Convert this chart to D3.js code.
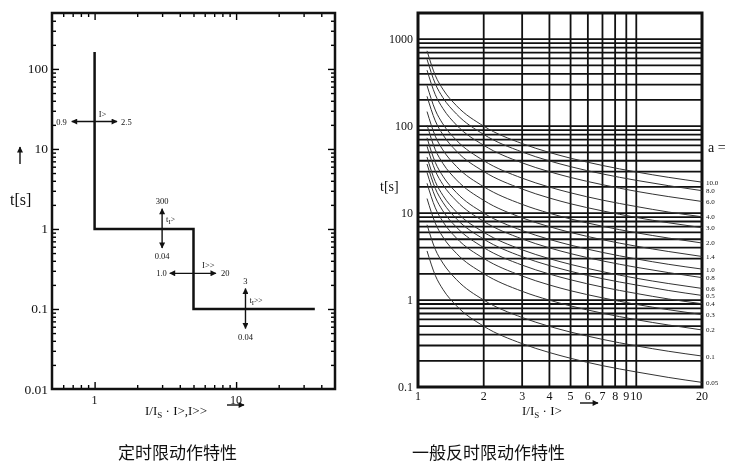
<!DOCTYPE html>
<html>
<head>
<meta charset="utf-8">
<script src="https://cdn.jsdelivr.net/npm/d3@7"></script>
<style>
  body { margin: 0; background: #fff; }
  svg { will-change: transform; }
  svg text { font-family: "Liberation Serif", "DejaVu Serif", serif; fill: #111; }
  svg text.cap { font-family: "Noto Sans CJK SC", sans-serif; }
</style>
</head>
<body>
<script>
'use strict';

// definite-time characteristic (step line)
const stepI = [1, 1, 5, 5, 36];
const stepT = [163, 1, 1, 0.1, 0.1];

// setting ranges drawn as double arrows on the left chart
const settingNames = ['I>', 't_I>', 'I>>', 't_I>>'];
const settingLow = ['0.9', '0.04', '1.0', '0.04'];
const settingHigh = ['2.5', '300', '20', '3'];

// inverse-time curves
const iMultiples = [1.1, 1.2, 1.3, 1.5, 2, 3, 4, 5, 7, 10, 14, 20];
const curveLabels = ['0.05', '0.1', '0.2', '0.3', '0.4', '0.5', '0.6', '0.8',
  '1.0', '1.4', '2.0', '3.0', '4.0', '6.0', '8.0', '10.0'];
const tripTimes = [
  [3.67, 1.92, 1.33, 0.86, 0.50, 0.315, 0.249, 0.214, 0.176, 0.149, 0.129, 0.113],
  [7.34, 3.83, 2.66, 1.72, 1.00, 0.630, 0.498, 0.428, 0.353, 0.297, 0.258, 0.227],
  [14.7, 7.66, 5.32, 3.44, 2.01, 1.26, 0.996, 0.856, 0.706, 0.594, 0.517, 0.453],
  [22.0, 11.5, 7.98, 5.16, 3.01, 1.89, 1.49, 1.28, 1.06, 0.891, 0.775, 0.680],
  [29.3, 15.3, 10.6, 6.88, 4.01, 2.52, 1.99, 1.71, 1.41, 1.19, 1.03, 0.907],
  [36.7, 19.2, 13.3, 8.60, 5.02, 3.15, 2.49, 2.14, 1.76, 1.49, 1.29, 1.13],
  [44.0, 23.0, 16.0, 10.3, 6.02, 3.78, 2.99, 2.57, 2.12, 1.78, 1.55, 1.36],
  [58.7, 30.7, 21.3, 13.8, 8.02, 5.04, 3.98, 3.42, 2.82, 2.38, 2.07, 1.81],
  [73.4, 38.3, 26.6, 17.2, 10.0, 6.30, 4.98, 4.28, 3.53, 2.97, 2.58, 2.27],
  [103, 53.6, 37.3, 24.1, 14.0, 8.82, 6.97, 5.99, 4.94, 4.16, 3.62, 3.17],
  [147, 76.6, 53.2, 34.4, 20.1, 12.6, 9.96, 8.56, 7.06, 5.94, 5.17, 4.53],
  [220, 115, 79.8, 51.6, 30.1, 18.9, 14.9, 12.8, 10.6, 8.91, 7.75, 6.80],
  [293, 153, 106, 68.8, 40.1, 25.2, 19.9, 17.1, 14.1, 11.9, 10.3, 9.07],
  [440, 230, 160, 103, 60.2, 37.8, 29.9, 25.7, 21.2, 17.8, 15.5, 13.6],
  [587, 307, 213, 138, 80.2, 50.4, 39.8, 34.2, 28.2, 23.8, 20.7, 18.1],
  [734, 383, 266, 172, 100, 63.0, 49.8, 42.8, 35.3, 29.7, 25.8, 22.7]
];

const leftYLabels = [0.01, 0.1, 1, 10, 100];
const leftXLabels = [1, 10];
const rightYLabels = [0.1, 1, 10, 100, 1000];
const rightXLabels = [1, 2, 3, 4, 5, 6, 7, 8, 9, 10, 20];

const svg = d3.select('body').append('svg')
  .attr('width', 747)
  .attr('height', 473);

// arrow head marker
svg.append('defs').append('marker')
  .attr('id', 'head')
  .attr('viewBox', '0 0 10 10')
  .attr('refX', 9).attr('refY', 5)
  .attr('markerWidth', 7).attr('markerHeight', 6)
  .attr('markerUnits', 'userSpaceOnUse')
  .attr('orient', 'auto-start-reverse')
  .append('path')
  .attr('d', 'M0,0L10,5L0,10z')
  .attr('fill', '#111');

function arrow(x1, y1, x2, y2, both) {
  let l = svg.append('line')
    .attr('x1', x1).attr('y1', y1).attr('x2', x2).attr('y2', y2)
    .attr('stroke', '#111').attr('stroke-width', 1.4)
    .attr('marker-end', 'url(#head)');
  if (both) l.attr('marker-start', 'url(#head)');
}

// ---------- left chart: definite time ----------
const xL = d3.scaleLog().domain([0.5, 50]).range([52, 335]);
const yL = d3.scaleLog().domain([0.01, 500]).range([389, 13]);

function isMajor(v) {
  return Math.abs(Math.log10(v) - Math.round(Math.log10(v))) < 1e-6;
}

const xTicksL = xL.ticks().filter(v => v > 0.5 && v < 50);
const yTicksL = yL.ticks().filter(v => v > 0.01 && v < 500);

// inward ticks, decades a bit longer
function minorTicks(g, len) {
  g.select('.domain').remove();
  g.selectAll('.tick line')
    .attr('stroke-width', 1.4)
    .each(function (d) {
      let sel = d3.select(this);
      let k = isMajor(d) ? len[1] : len[0];
      if (sel.attr('x2') != null && +sel.attr('x2') !== 0) sel.attr('x2', Math.sign(+sel.attr('x2')) * k);
      if (sel.attr('y2') != null && +sel.attr('y2') !== 0) sel.attr('y2', Math.sign(+sel.attr('y2')) * k);
    });
}

svg.append('g')
  .attr('transform', 'translate(0,389)')
  .call(d3.axisBottom(xL).tickValues(xTicksL).tickSize(-4).tickFormat(''))
  .call(minorTicks, [4, 7]);
svg.append('g')
  .attr('transform', 'translate(0,13)')
  .call(d3.axisTop(xL).tickValues(xTicksL).tickSize(-4).tickFormat(''))
  .call(minorTicks, [4, 7]);
svg.append('g')
  .attr('transform', 'translate(52,0)')
  .call(d3.axisLeft(yL).tickValues(yTicksL).tickSize(-4).tickFormat(''))
  .call(minorTicks, [4, 7]);
svg.append('g')
  .attr('transform', 'translate(335,0)')
  .call(d3.axisRight(yL).tickValues(yTicksL).tickSize(-4).tickFormat(''))
  .call(minorTicks, [4, 7]);

svg.append('rect')
  .attr('x', 52).attr('y', 13)
  .attr('width', 283).attr('height', 376)
  .attr('fill', 'none').attr('stroke', '#111').attr('stroke-width', 2.5);

svg.append('g').selectAll('text')
  .data(leftYLabels).join('text')
  .attr('x', 48).attr('y', d => yL(d) + 4.5)
  .attr('text-anchor', 'end')
  .style('font-size', '13.5px')
  .text(d => d);

svg.append('g').selectAll('text')
  .data(leftXLabels).join('text')
  .attr('x', d => xL(d)).attr('y', 404)
  .attr('text-anchor', 'middle')
  .style('font-size', '12px')
  .text(d => d);

// step line
svg.append('path')
  .datum(d3.zip(stepI, stepT))
  .attr('d', d3.line().x(d => xL(d[0])).y(d => yL(d[1])))
  .attr('fill', 'none').attr('stroke', '#111').attr('stroke-width', 2.5);

// setting arrows
function subLabel(x, y, name) {
  let parts = name.split('_');
  let t = svg.append('text').attr('x', x).attr('y', y).style('font-size', '8.5px');
  if (parts.length === 1) {
    t.text(name);
  } else {
    t.append('tspan').text(parts[0]);
    t.append('tspan').attr('dy', 2).style('font-size', '6.5px').text(parts[1].charAt(0));
    t.append('tspan').attr('dy', -2).style('font-size', '7.5px').text(parts[1].slice(1));
  }
}

// I> pick-up range
let ay = yL(22);
arrow(xL(0.69), ay, xL(1.44), ay, true);
svg.append('text').attr('x', xL(0.69) - 5).attr('y', ay + 3).attr('text-anchor', 'end')
  .style('font-size', '8.5px').text(settingLow[0]);
svg.append('text').attr('x', xL(1.44) + 4).attr('y', ay + 3)
  .style('font-size', '8.5px').text(settingHigh[0]);
subLabel(xL(1.07), ay - 5, settingNames[0]);

// t_I> delay range
let ax = xL(3);
arrow(ax, yL(1.79), ax, yL(0.58), true);
svg.append('text').attr('x', ax).attr('y', yL(1.79) - 5).attr('text-anchor', 'middle')
  .style('font-size', '8.5px').text(settingHigh[1]);
svg.append('text').attr('x', ax).attr('y', yL(0.58) + 11).attr('text-anchor', 'middle')
  .style('font-size', '8.5px').text(settingLow[1]);
subLabel(ax + 4, yL(1.32) + 3, settingNames[1]);

// I>> pick-up range
ay = yL(0.279);
arrow(xL(3.4), ay, xL(7.2), ay, true);
svg.append('text').attr('x', xL(3.4) - 3).attr('y', ay + 3).attr('text-anchor', 'end')
  .style('font-size', '8.5px').text(settingLow[2]);
svg.append('text').attr('x', xL(7.2) + 5).attr('y', ay + 3)
  .style('font-size', '8.5px').text(settingHigh[2]);
subLabel(xL(5.75), ay - 5, settingNames[2]);

// t_I>> delay range
ax = xL(11.65);
arrow(ax, yL(0.18), ax, yL(0.057), true);
svg.append('text').attr('x', ax).attr('y', yL(0.18) - 5).attr('text-anchor', 'middle')
  .style('font-size', '8.5px').text(settingHigh[3]);
svg.append('text').attr('x', ax).attr('y', yL(0.057) + 11).attr('text-anchor', 'middle')
  .style('font-size', '8.5px').text(settingLow[3]);
subLabel(ax + 4, yL(0.13) + 3, settingNames[3]);

// left axis titles
svg.append('text').attr('x', 10).attr('y', 205)
  .style('font-size', '16px').text('t[s]');
arrow(20, 164, 20, 147, false);

let xt = svg.append('text').attr('x', 145).attr('y', 415).style('font-size', '13px');
xt.append('tspan').text('I/I');
xt.append('tspan').attr('dy', 3).style('font-size', '9px').text('S');
xt.append('tspan').attr('dy', -3).text(' \u00b7 I>,I>>');
arrow(227, 405, 244, 405, false);

// ---------- right chart: normal inverse time ----------
const xR = d3.scaleLog().domain([1, 20]).range([418, 702]);
const yR = d3.scaleLog().domain([0.1, 2000]).range([387, 13]);

const hGrid = yR.ticks().filter(v => v > 0.1 && v < 2000);
const vGrid = xR.ticks().filter(v => v > 1 && v < 20);

svg.append('g').selectAll('line')
  .data(hGrid).join('line')
  .attr('x1', 418).attr('x2', 702)
  .attr('y1', d => yR(d)).attr('y2', d => yR(d))
  .attr('stroke', '#111').attr('stroke-width', 1.8);

svg.append('g').selectAll('line')
  .data(vGrid).join('line')
  .attr('x1', d => xR(d)).attr('x2', d => xR(d))
  .attr('y1', 13).attr('y2', 387)
  .attr('stroke', '#111').attr('stroke-width', 1.8);

svg.append('rect')
  .attr('x', 418).attr('y', 13)
  .attr('width', 284).attr('height', 374)
  .attr('fill', 'none').attr('stroke', '#111').attr('stroke-width', 3);

const curveLine = d3.line()
  .x((d, i) => xR(iMultiples[i]))
  .y(d => yR(d))
  .curve(d3.curveMonotoneX);

svg.append('g').selectAll('path')
  .data(tripTimes).join('path')
  .attr('d', curveLine)
  .attr('fill', 'none').attr('stroke', '#333').attr('stroke-width', 1);

svg.append('g').selectAll('text')
  .data(tripTimes).join('text')
  .attr('x', 706)
  .attr('y', d => yR(d[d.length - 1]) + 2.5)
  .style('font-size', '7px')
  .text((d, i) => curveLabels[i]);

svg.append('text').attr('x', 708).attr('y', 152)
  .style('font-size', '14px').text('a =');

svg.append('g').selectAll('text')
  .data(rightYLabels).join('text')
  .attr('x', 413).attr('y', d => yR(d) + 4)
  .attr('text-anchor', 'end')
  .style('font-size', '12px')
  .text(d => d);

svg.append('g').selectAll('text')
  .data(rightXLabels).join('text')
  .attr('x', d => xR(d)).attr('y', 400)
  .attr('text-anchor', 'middle')
  .style('font-size', '12px')
  .text(d => d);

svg.append('text').attr('x', 380).attr('y', 191)
  .style('font-size', '14px').text('t[s]');

xt = svg.append('text').attr('x', 522).attr('y', 415).style('font-size', '13px');
xt.append('tspan').text('I/I');
xt.append('tspan').attr('dy', 3).style('font-size', '9px').text('S');
xt.append('tspan').attr('dy', -3).text(' \u00b7 I>');
arrow(580, 403, 598, 403, false);

// captions
svg.append('text').attr('class', 'cap').attr('x', 118).attr('y', 459)
  .style('font-size', '17px').text('定时限动作特性');
svg.append('text').attr('class', 'cap').attr('x', 412).attr('y', 459)
  .style('font-size', '17px').text('一般反时限动作特性');
</script>
</body>
</html>
